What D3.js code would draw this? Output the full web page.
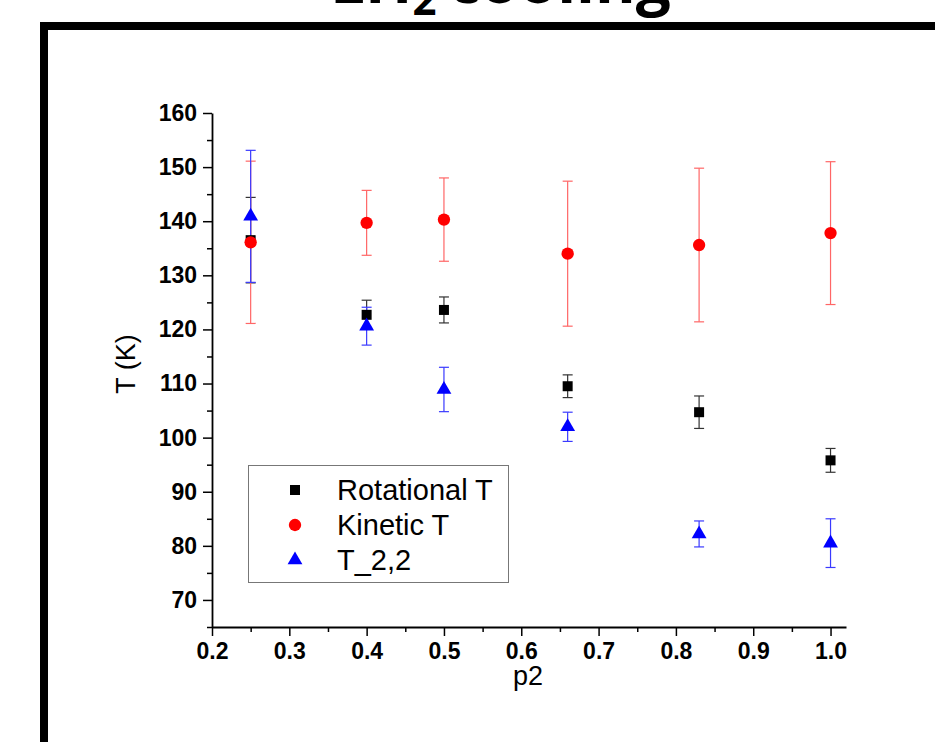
<!DOCTYPE html>
<html>
<head>
    <title>LH2 cooling</title>
    <script src="https://d3js.org/d3.v7.min.js"></script>
    <style>
        body { margin: 0; background: #fff; }
    </style>
</head>
<body>
    <svg width="935" height="742" id="mainsvg"></svg>
    <script>
        // values
        const p2 = [0.25, 0.4, 0.5, 0.66, 0.83, 1.0];
        const rotT = [136.5, 122.7, 123.6, 109.5, 104.7, 95.8];
        const rotErr = [7.9, 2.7, 2.4, 2.1, 3.0, 2.2];
        const kinT = [136.1, 139.7, 140.3, 134.0, 135.6, 137.8];
        const kinErr = [15.0, 6.0, 7.7, 13.4, 14.2, 13.2];
        const t22 = [140.9, 120.6, 108.9, 102.0, 82.2, 80.5];
        const t22Err = [12.2, 3.5, 4.1, 2.7, 2.4, 4.5];
        const seriesNames = ['Rotational T', 'Kinetic T', 'T_2,2'];
        const xTicks = [0.2, 0.3, 0.4, 0.5, 0.6, 0.7, 0.8, 0.9, 1.0];
        const yTicks = [70, 80, 90, 100, 110, 120, 130, 140, 150, 160];

        const svg = d3.select('#mainsvg');
        const font = "'Liberation Sans', Arial, sans-serif";

        // slide frame + title that is cut off at the top
        svg.append('path')
            .attr('d', 'M44,760 L44,26 L950,26')
            .attr('fill', 'none')
            .attr('stroke', 'black')
            .attr('stroke-width', 8);
        const title = svg.append('text')
            .attr('x', 330).attr('y', 3)
            .attr('font-family', "'Open Sans', sans-serif")
            .attr('font-weight', 'bold')
            .attr('font-size', 62)
            .attr('fill', 'black');
        title.append('tspan').text('LH');
        title.append('tspan').attr('dy', 12).attr('font-size', 42).text('2');
        title.append('tspan').attr('dy', -12).attr('dx', 12).text('cooling');

        const x = d3.scaleLinear().domain([0.2, 1.02]).range([212, 846]);
        const y = d3.scaleLinear().domain([65, 160]).range([627, 113]);

        const xMinor = d3.range(0.25, 1.0, 0.1);
        const yMinor = d3.range(65, 160, 10);

        // minor ticks
        svg.append('g').attr('transform', 'translate(0,627)')
            .call(d3.axisBottom(x).tickValues(xMinor).tickSize(5).tickSizeOuter(0).tickFormat(''))
            .call(g => g.select('.domain').remove())
            .selectAll('line').attr('stroke-width', 1.5);
        svg.append('g').attr('transform', 'translate(212,0)')
            .call(d3.axisLeft(y).tickValues(yMinor).tickSize(5).tickSizeOuter(0).tickFormat(''))
            .call(g => g.select('.domain').remove())
            .selectAll('line').attr('stroke-width', 1.5);

        // major axes
        const xAxis = svg.append('g').attr('transform', 'translate(0,627)')
            .call(d3.axisBottom(x).tickValues(xTicks).tickSize(9).tickSizeOuter(0).tickPadding(7)
                .tickFormat(d3.format('.1f')));
        const yAxis = svg.append('g').attr('transform', 'translate(212,0)')
            .call(d3.axisLeft(y).tickValues(yTicks).tickSize(9).tickSizeOuter(0).tickPadding(6));
        [xAxis, yAxis].forEach(a => {
            a.select('.domain').attr('stroke-width', 1.8);
            a.selectAll('line').attr('stroke-width', 1.5);
            a.selectAll('text')
                .attr('font-family', font)
                .attr('font-weight', 'bold')
                .attr('font-size', 23)
                .attr('fill', 'black');
        });

        svg.append('text')
            .attr('x', 528).attr('y', 685)
            .attr('text-anchor', 'middle')
            .attr('font-family', font).attr('font-size', 27)
            .text('p2');
        svg.append('text')
            .attr('transform', 'translate(135,364) rotate(-90)')
            .attr('text-anchor', 'middle')
            .attr('font-family', font).attr('font-size', 27)
            .text('T (K)');

        const series = [
            { vals: rotT, errs: rotErr, color: '#000', barColor: '#333', shape: d3.symbolSquare, size: 100 },
            { vals: kinT, errs: kinErr, color: '#ff0000', barColor: '#ff6666', shape: d3.symbolCircle, size: 120 },
            { vals: t22, errs: t22Err, color: '#0000ff', barColor: '#3a3aff', shape: d3.symbolTriangle, size: 95 }
        ];

        // error bars first
        series.forEach(s => {
            const g = svg.append('g').attr('stroke', s.barColor).attr('stroke-width', 1.2);
            p2.forEach((p, i) => {
                const lo = y(s.vals[i] - s.errs[i]);
                const hi = y(s.vals[i] + s.errs[i]);
                g.append('line').attr('x1', x(p)).attr('x2', x(p)).attr('y1', lo).attr('y2', hi);
                g.append('line').attr('x1', x(p) - 5).attr('x2', x(p) + 5).attr('y1', lo).attr('y2', lo);
                g.append('line').attr('x1', x(p) - 5).attr('x2', x(p) + 5).attr('y1', hi).attr('y2', hi);
            });
        });

        // markers
        series.forEach(s => {
            svg.append('g').selectAll('path')
                .data(p2.map((p, i) => [p, s.vals[i]]))
                .join('path')
                .attr('transform', d => `translate(${x(d[0])},${y(d[1])})`)
                .attr('d', d3.symbol().type(s.shape).size(s.size))
                .attr('fill', s.color);
        });

        // legend
        const lg = svg.append('g');
        lg.append('rect')
            .attr('x', 248.5).attr('y', 465.5).attr('width', 260).attr('height', 117)
            .attr('fill', 'white').attr('stroke', '#777').attr('stroke-width', 1);
        series.forEach((s, i) => {
            const cy = 490 + i * 35;
            lg.append('path')
                .attr('transform', `translate(295,${cy})`)
                .attr('d', d3.symbol().type(s.shape).size(s.size))
                .attr('fill', s.color);
            lg.append('text')
                .attr('x', 337).attr('y', cy + 10)
                .attr('font-family', font).attr('font-size', 29)
                .text(seriesNames[i]);
        });
    </script>
</body>
</html>
